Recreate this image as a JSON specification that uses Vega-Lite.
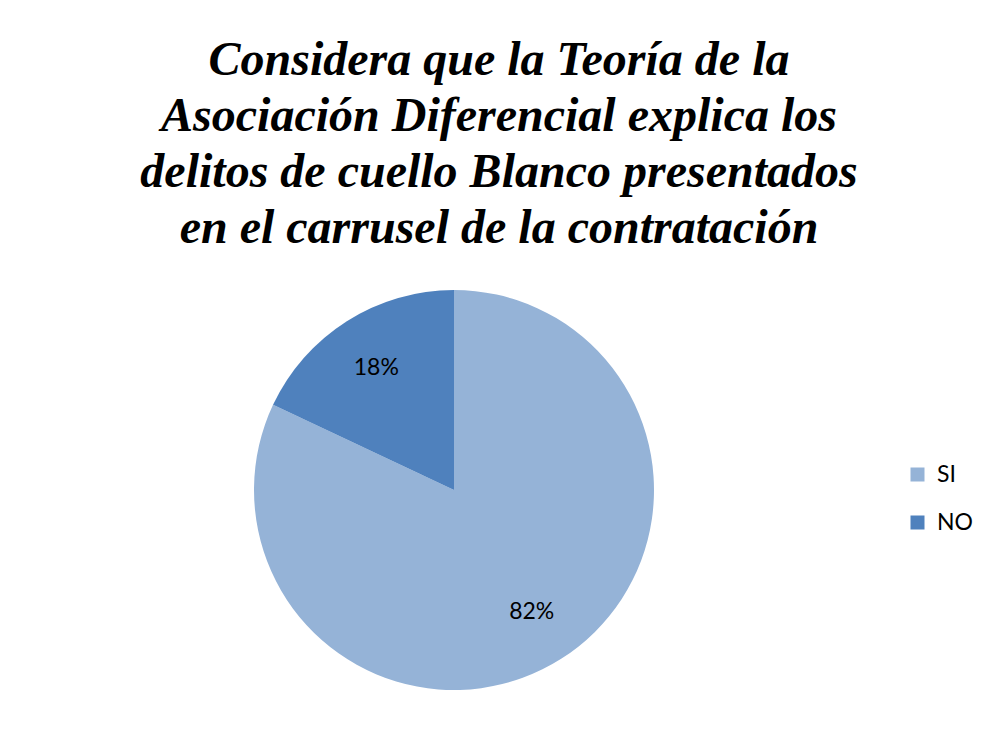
{
  "$schema": "https://vega.github.io/schema/vega-lite/v6.json",
  "autosize": "none",
  "width": 908,
  "height": 460,
  "padding": {"left": 0, "top": 260, "right": 82, "bottom": 19},
  "background": "white",
  "title": {
    "text": ["Considera que la Teoría de la", "Asociación Diferencial explica los", "delitos de cuello Blanco presentados", "en el carrusel de la contratación"],
    "font": "Liberation Serif",
    "fontSize": 48,
    "fontWeight": "bold",
    "fontStyle": "italic",
    "lineHeight": 56,
    "color": "black",
    "anchor": "middle",
    "dx": 45,
    "offset": 7
  },
  "data": {"values": [
    {"respuesta": "SI", "pct": 0.82},
    {"respuesta": "NO", "pct": 0.18}
  ]},
  "encoding": {
    "theta": {"field": "pct", "type": "quantitative", "stack": true},
    "order": {"field": "pct", "sort": "descending"}
  },
  "layer": [
    {
      "mark": {"type": "arc", "radius": 200, "strokeWidth": 0},
      "encoding": {
        "color": {
          "field": "respuesta",
          "type": "nominal",
          "sort": ["SI", "NO"],
          "scale": {"domain": ["SI", "NO"], "range": ["#95B3D7", "#4F81BD"]},
          "legend": {
            "orient": "none",
            "legendX": 906,
            "legendY": 203,
            "title": null,
            "symbolType": "square",
            "symbolSize": 196,
            "symbolStrokeWidth": 0,
            "labelFont": "Lato",
            "labelFontSize": 23,
            "labelColor": "black",
            "rowPadding": 24,
            "labelOffset": 8,
            "padding": 0
          }
        }
      }
    },
    {
      "mark": {"type": "text", "radius": 145, "font": "Lato", "fontSize": 23, "color": "black"},
      "encoding": {
        "text": {"field": "pct", "type": "quantitative", "format": ".0%"}
      }
    }
  ],
  "config": {"view": {"stroke": null}}
}
